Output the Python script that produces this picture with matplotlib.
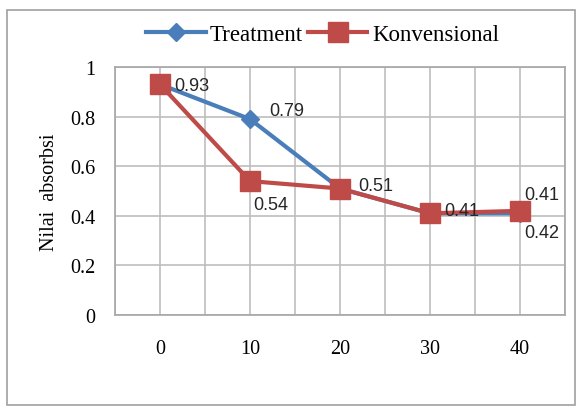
import matplotlib.pyplot as plt
from matplotlib.patches import Rectangle

x = [0, 10, 20, 30, 40]
treatment = [0.93, 0.79, 0.51, 0.41, 0.41]
konvensional = [0.93, 0.54, 0.51, 0.41, 0.42]

labels_t = ["0.93", "0.79", "", "", "0.41"]
labels_k = ["", "0.54", "0.51", "0.41", "0.42"]

fig = plt.figure(figsize=(5.81, 4.10), dpi=100)
fig.patches.append(Rectangle((7/581, 4/410), 568/581, 395/410, transform=fig.transFigure,
                             fill=False, edgecolor="#a0a0a0", linewidth=1.2))

ax = fig.add_axes([115/581, 1 - 316/410, 450/581, 248/410])
ax.set_xlim(-5, 45)
ax.set_ylim(0, 1)
ax.set_xticks(x)
ax.set_xticks(range(-5, 46, 5), minor=True)
ax.set_yticks([0, 0.2, 0.4, 0.6, 0.8, 1])
ax.set_yticklabels(["0", "0.2", "0.4", "0.6", "0.8", "1"])
ax.grid(True, which="both", color="#bdbdbd", linewidth=1.2)
ax.set_axisbelow(True)
ax.tick_params(which="both", length=0, labelsize=14.5, pad=14)
ax.tick_params(axis="x", pad=17)
for lab in ax.get_xticklabels() + ax.get_yticklabels():
    lab.set_family("Liberation Serif")
for s in ax.spines.values():
    s.set_color("#a6a6a6")
    s.set_linewidth(1.2)

ax.plot(x, treatment, color="#4a7ebb", linewidth=3, marker="D", markersize=9,
        label="Treatment", clip_on=False)
ax.plot(x, konvensional, color="#be4b48", linewidth=3, marker="s", markersize=15,
        label="Konvensional", clip_on=False)

ax.set_ylabel("Nilai  absorbsi", family="Liberation Serif", fontsize=14.5, labelpad=8)

lbl = dict(fontsize=13, family="Liberation Sans", color="#262626", textcoords="offset points")
ax.annotate(labels_t[0], (x[0], treatment[0]), xytext=(10, -4), **lbl)
ax.annotate(labels_t[1], (x[1], treatment[1]), xytext=(14, 3), **lbl)
ax.annotate(labels_k[1], (x[1], konvensional[1]), xytext=(2, -20), **lbl)
ax.annotate(labels_k[2], (x[2], konvensional[2]), xytext=(13, -1), **lbl)
ax.annotate(labels_k[3], (x[3], konvensional[3]), xytext=(10, -1), **lbl)
ax.annotate(labels_t[4], (x[4], treatment[4]), xytext=(3, 10), **lbl)
ax.annotate(labels_k[4], (x[4], konvensional[4]), xytext=(3, -19), **lbl)

fig.legend(loc="upper center", bbox_to_anchor=(0.555, 0.99), ncol=2, frameon=False,
           prop={"family": "Liberation Serif", "size": 16.5}, handlelength=2.6,
           columnspacing=0.2, handletextpad=0.2)

fig.savefig("out.png", dpi=100)
